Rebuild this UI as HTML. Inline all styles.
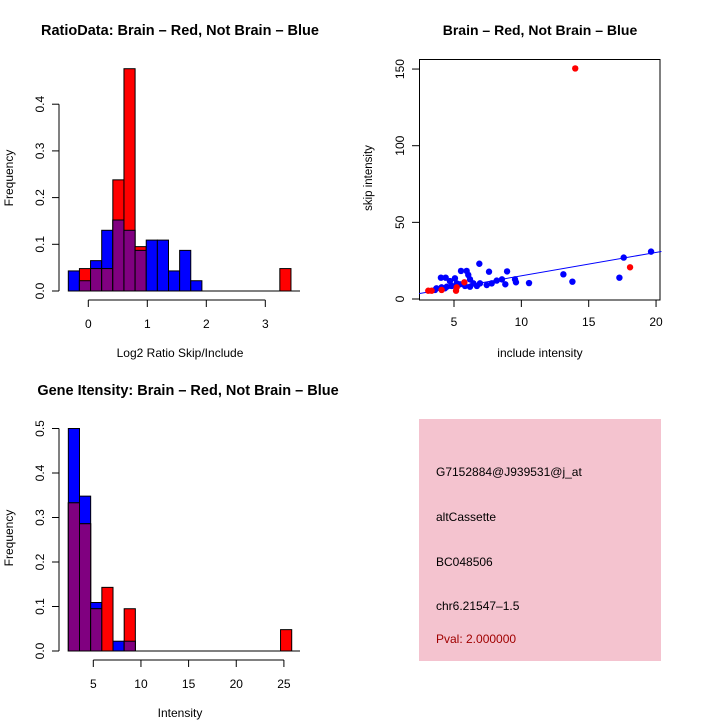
<!DOCTYPE html>
<html><head><meta charset="utf-8">
<style>
html,body{margin:0;padding:0;background:#fff;}
svg{display:block;font-family:"Liberation Sans",sans-serif;}
</style></head>
<body>
<svg id="c" width="720" height="720" xmlns="http://www.w3.org/2000/svg">
<rect width="720" height="720" fill="#fff"/>
<text x="180" y="35" text-anchor="middle" font-weight="bold" font-size="14.5">RatioData: Brain – Red, Not Brain – Blue</text>
<text x="540" y="35" text-anchor="middle" font-weight="bold" font-size="14">Brain – Red, Not Brain – Blue</text>
<text x="188" y="395" text-anchor="middle" font-weight="bold" font-size="14.5">Gene Itensity: Brain – Red, Not Brain – Blue</text>
<text x="180" y="357" text-anchor="middle" font-size="12">Log2 Ratio Skip/Include</text>
<text transform="translate(13,178) rotate(-90)" text-anchor="middle" font-size="12">Frequency</text>
<text x="540" y="357" text-anchor="middle" font-size="12">include intensity</text>
<text transform="translate(372,178) rotate(-90)" text-anchor="middle" font-size="11.5">skip intensity</text>
<text x="180" y="717" text-anchor="middle" font-size="12">Intensity</text>
<text transform="translate(13,538) rotate(-90)" text-anchor="middle" font-size="12">Frequency</text>
<g id="g1"></g>
<g id="g2"></g>
<g id="g3"></g>
<g>
<rect x="419" y="419" width="242" height="242" fill="#f4c3cf"/>
<text x="436" y="476" font-size="12">G7152884@J939531@j_at</text>
<text x="436" y="521" font-size="12">altCassette</text>
<text x="436" y="566" font-size="12">BC048506</text>
<text x="436" y="610" font-size="12">chr6.21547–1.5</text>
<text x="436" y="643" font-size="12" fill="#a00000">Pval: 2.000000</text>
</g>
</svg>
<script>
// Ratio histogram data
const ratioBinStart = -0.339;
const ratioBinWidth = 0.1887;
const ratioBlue = [0.043,0.022,0.065,0.13,0.152,0.13,0.087,0.109,0.109,0.043,0.087,0.022,0,0,0,0,0,0,0,0];
const ratioRed  = [0,0.048,0.048,0.048,0.238,0.476,0.095,0,0,0,0,0,0,0,0,0,0,0,0,0.048];
const ratioXTicks = [0,1,2,3];
const ratioYTicks = [0,0.1,0.2,0.3,0.4];
const ratioYLabels = ["0.0","0.1","0.2","0.3","0.4"];
// Intensity histogram data
const intBinStart = 2.38;
const intBinWidth = 1.172;
const intBlue = [0.5,0.348,0.109,0,0.022,0.022,0,0,0,0,0,0,0,0,0,0,0,0,0,0];
const intRed  = [0.333,0.286,0.095,0.143,0,0.095,0,0,0,0,0,0,0,0,0,0,0,0,0,0.048];
const intXTicks = [5,10,15,20,25];
const intYTicks = [0,0.1,0.2,0.3,0.4,0.5];
const intYLabels = ["0.0","0.1","0.2","0.3","0.4","0.5"];
// Scatter data
const blueX = [4.03,4.38,5.52,5.94,6.06,6.19,6.88,7.6,8.94,6.93,6.7,7.43,7.8,8.17,8.56,8.81,9.53,9.6,10.57,13.12,13.79,17.28,17.6,19.63,5.07,4.7,3.7,4.08,4.46,4.83,5.45,5.82,6.19,6.44,5.2,4.33,3.59];
const blueY = [13.9,13.9,18.3,18.3,15.7,12.8,23,17.8,18,10.2,8.5,9.1,10.2,12,12.8,9.6,12.8,10.9,10.4,16.1,11.3,13.9,27,30.9,13.5,11.7,7,7.6,8,8.5,9.6,8.5,8,10.2,10.2,7,5.9];
const redX = [14.0,18.07,5.77,5.15,5.2,3.09,3.34,4.08];
const redY = [150.4,20.7,10.9,5.4,7.6,5.4,5.4,5.9];
const fitLine = [-0.2,1.53]; // intercept, slope
const scXTicks = [5,10,15,20];
const scYTicks = [0,50,100,150];

const NS="http://www.w3.org/2000/svg";
function mk(tag,attrs,parent){const e=document.createElementNS(NS,tag);for(const k in attrs)e.setAttribute(k,attrs[k]);parent.appendChild(e);return e;}

function hist(g,o){
  const sx=v=>o.x0px+(v-o.x0)*o.xs, sy=v=>o.y0px-v*o.ys;
  const n=o.blue.length;
  const bl=mk('line',{x1:sx(o.binStart),x2:o.baseEnd,y1:sy(0),y2:sy(0),stroke:'#000'},g);
  
  
  for(let i=0;i<n;i++){
    const xa=sx(o.binStart+i*o.binW), xb=sx(o.binStart+(i+1)*o.binW);
    const layers=[[o.blue[i],'#0000ff','blue-bar'],[o.red[i],'#ff0000','red-bar'],[Math.min(o.blue[i],o.red[i]),'#800080','overlap-bar']];
    for(const [v,c,nm] of layers){
      if(v<=0)continue;
      const r=mk('rect',{x:xa,y:sy(v),width:xb-xa,height:sy(0)-sy(v),fill:c,stroke:'#000','stroke-width':1},g);
      
      
    }
  }
  const ya=o.yt;
  const yl=mk('line',{x1:59,x2:59,y1:sy(ya[0]),y2:sy(ya[ya.length-1]),stroke:'#000'},g);
  
  
  ya.forEach((v,i)=>{
    mk('line',{x1:52,x2:59,y1:sy(v),y2:sy(v),stroke:'#000'},g);
    const t=mk('text',{transform:`translate(44,${sy(v)}) rotate(-90)`,'text-anchor':'middle','font-size':12},g);
    t.textContent=o.yl[i];
    
    
  });
  const xt=o.xt, ax=o.axisY;
  const xl=mk('line',{x1:sx(xt[0]),x2:sx(xt[xt.length-1]),y1:ax,y2:ax,stroke:'#000'},g);
  
  
  xt.forEach(v=>{
    mk('line',{x1:sx(v),x2:sx(v),y1:ax,y2:ax+7,stroke:'#000'},g);
    const t=mk('text',{x:sx(v),y:ax+28,'text-anchor':'middle','font-size':12},g);
    t.textContent=String(v);
    
    
  });
}
hist(document.getElementById('g1'),{x0:0,x0px:88.3,xs:59,y0px:291,ys:467,blue:ratioBlue,red:ratioRed,binStart:ratioBinStart,binW:ratioBinWidth,baseEnd:300,yt:ratioYTicks,yl:ratioYLabels,xt:ratioXTicks,axisY:300});
hist(document.getElementById('g3'),{x0:5,x0px:93.3,xs:9.53,y0px:651,ys:445,blue:intBlue,red:intRed,binStart:intBinStart,binW:intBinWidth,baseEnd:300,yt:intYTicks,yl:intYLabels,xt:intXTicks,axisY:660});

(function(){
  const g=document.getElementById('g2');
  const sx=v=>454+(v-5)*13.47, sy=v=>299-v*1.533;
  const box=mk('rect',{x:419.5,y:59.5,width:240.5,height:240.5,fill:'none',stroke:'#000'},g);
  
  
  scXTicks.forEach(v=>{
    mk('line',{x1:sx(v),x2:sx(v),y1:300,y2:307,stroke:'#000'},g);
    const t=mk('text',{x:sx(v),y:326,'text-anchor':'middle','font-size':12},g);
    t.textContent=String(v);
    
    
  });
  scYTicks.forEach(v=>{
    mk('line',{x1:412,x2:419.5,y1:sy(v),y2:sy(v),stroke:'#000'},g);
    const t=mk('text',{transform:`translate(404,${sy(v)}) rotate(-90)`,'text-anchor':'middle','font-size':12},g);
    t.textContent=String(v);
    
    
  });
  const xa=2.4, xb=20.4;
  const ln=mk('line',{x1:sx(xa),y1:sy(fitLine[0]+fitLine[1]*xa),x2:sx(xb),y2:sy(fitLine[0]+fitLine[1]*xb),stroke:'#0000ff'},g);
  
  
  blueX.forEach((x,i)=>{
    const c=mk('circle',{cx:sx(x),cy:sy(blueY[i]),r:3.2,fill:'#0000ff'},g);
    
    
  });
  redX.forEach((x,i)=>{
    const c=mk('circle',{cx:sx(x),cy:sy(redY[i]),r:3.2,fill:'#ff0000'},g);
    
    
  });
})();
</script>
</body></html>
